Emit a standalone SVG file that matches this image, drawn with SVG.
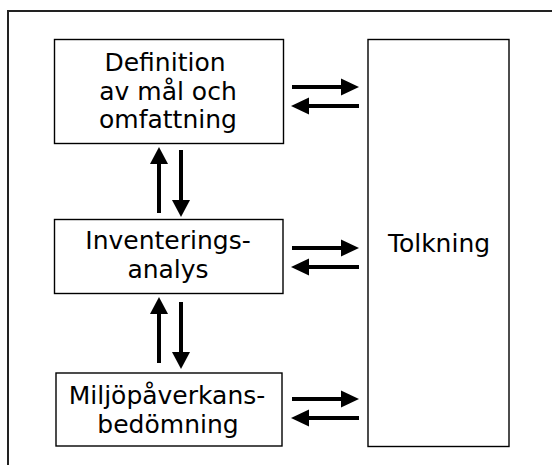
<svg xmlns="http://www.w3.org/2000/svg" width="552" height="468" viewBox="0 0 552 468">
<style>
.box{fill:#fff;stroke:#000;stroke-width:1.4}
.t{font-family:"DejaVu Sans",Verdana,sans-serif;font-size:25px;fill:#000;text-anchor:middle}
.c{stroke:#000;stroke-width:4;fill:none}
.h{fill:#000;stroke:none}
</style>
<rect width="552" height="468" fill="#fff"/>
<path d="M8,465 V11 H552" fill="none" stroke="#222" stroke-width="2"/>
<g id="node-definition">
<rect class="box" x="54.5" y="39.5" width="229" height="104"/>
<text class="t" x="165" y="71">Definition</text>
<text class="t" x="168" y="100">av mål och</text>
<text class="t" x="168" y="128">omfattning</text>
</g>
<g id="node-inventering">
<rect class="box" x="54.5" y="219.5" width="228.5" height="74"/>
<text class="t" x="168" y="249">Inventerings-</text>
<text class="t" x="168" y="278">analys</text>
</g>
<g id="node-miljo">
<rect class="box" x="56" y="373" width="226" height="73"/>
<text class="t" x="167" y="404">Miljöpåverkans-</text>
<text class="t" x="168" y="433">bedömning</text>
</g>
<g id="node-tolkning">
<rect class="box" x="368" y="39.5" width="141" height="407"/>
<text class="t" x="439" y="252">Tolkning</text>
</g>
<g id="connectors">
<!-- vertical between 1 and 2 -->
<line class="c" x1="159" y1="162" x2="159" y2="213"/>
<polygon class="h" points="159,147 150,164 168,164"/>
<line class="c" x1="181" y1="150" x2="181" y2="201"/>
<polygon class="h" points="181,217 172,200 190,200"/>
<!-- vertical between 2 and 3 -->
<line class="c" x1="159" y1="312" x2="159" y2="363"/>
<polygon class="h" points="159,297 150,314 168,314"/>
<line class="c" x1="181" y1="302" x2="181" y2="353"/>
<polygon class="h" points="181,369 172,352 190,352"/>
<!-- horizontal pair 1 -->
<line class="c" x1="292" y1="87" x2="343" y2="87"/>
<polygon class="h" points="359,87 341,78.5 341,95.5"/>
<line class="c" x1="307" y1="106" x2="359" y2="106"/>
<polygon class="h" points="291,106 309,97.5 309,114.5"/>
<!-- horizontal pair 2 -->
<line class="c" x1="292" y1="248" x2="343" y2="248"/>
<polygon class="h" points="359,248 341,239.5 341,256.5"/>
<line class="c" x1="307" y1="267" x2="359" y2="267"/>
<polygon class="h" points="291,267 309,258.5 309,275.5"/>
<!-- horizontal pair 3 -->
<line class="c" x1="292" y1="399" x2="343" y2="399"/>
<polygon class="h" points="359,399 341,390.5 341,407.5"/>
<line class="c" x1="307" y1="418" x2="359" y2="418"/>
<polygon class="h" points="291,418 309,409.5 309,426.5"/>
</g>
</svg>
